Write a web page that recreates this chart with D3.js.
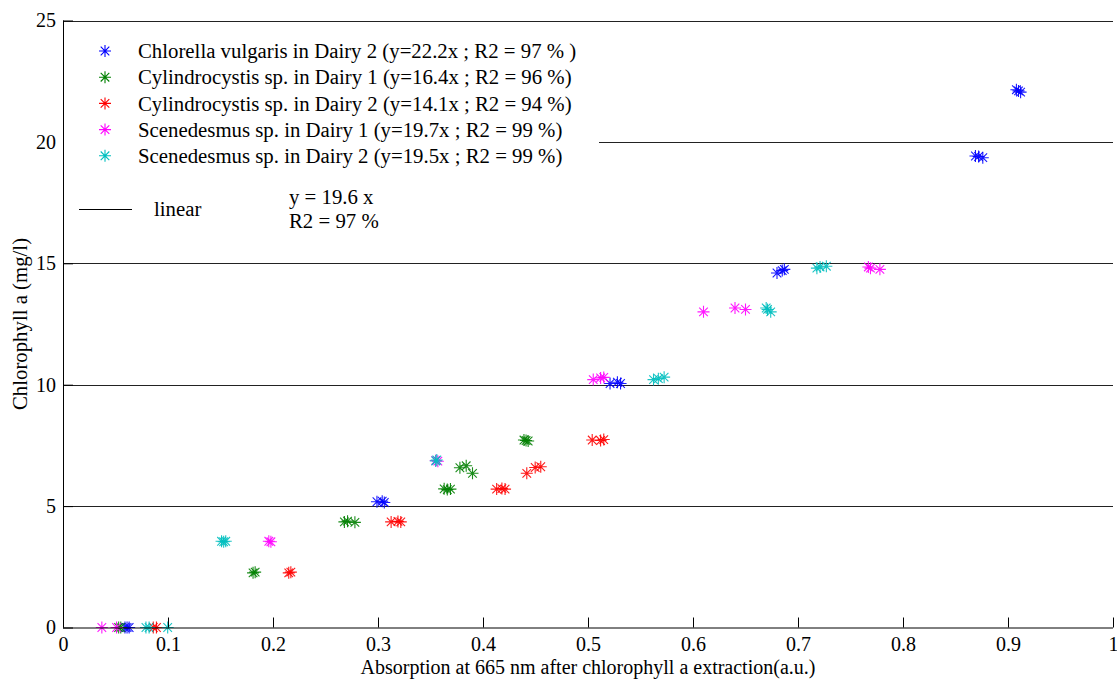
<!DOCTYPE html>
<html>
<head>
<meta charset="utf-8">
<script src="https://cdn.jsdelivr.net/npm/d3@7"></script>
<style>
  html, body { margin: 0; padding: 0; background: #fff; }
  svg text { font-family: "Liberation Serif", "Times New Roman", serif !important; fill: #000; }
</style>
</head>
<body>
<svg id="chart" width="1117" height="679"></svg>
<script>
// Series: absorption (a.u.) vs chlorophyll a (mg/l), replicates per level
const seriesNames = [
  "Chlorella vulgaris in Dairy 2 (y=22.2x ; R2 = 97 % )",
  "Cylindrocystis sp. in Dairy 1 (y=16.4x ; R2 = 96 %)",
  "Cylindrocystis sp. in Dairy 2 (y=14.1x ; R2 = 94 %)",
  "Scenedesmus sp. in Dairy 1 (y=19.7x ; R2 = 99 %)",
  "Scenedesmus sp. in Dairy 2 (y=19.5x ; R2 = 99 %)"
];
const seriesColors = ["#0000ff", "#008000", "#ff0000", "#ff00ff", "#00bfbf"];

const chlorellaD2 = [
  [0.059, 0], [0.063, 0], [0.061, 0],
  [0.299, 5.18], [0.304, 5.2], [0.306, 5.15],
  [0.521, 10.05], [0.528, 10.1], [0.531, 10.05],
  [0.680, 14.6], [0.685, 14.7], [0.687, 14.75],
  [0.869, 19.42], [0.872, 19.4], [0.876, 19.35],
  [0.908, 22.15], [0.910, 22.1], [0.912, 22.05]
];
const cylindroD1 = [
  [0.053, 0], [0.055, 0],
  [0.181, 2.25], [0.183, 2.28],
  [0.268, 4.35], [0.271, 4.38], [0.278, 4.33],
  [0.363, 5.71], [0.366, 5.68], [0.369, 5.7],
  [0.378, 6.58], [0.384, 6.66], [0.390, 6.35],
  [0.439, 7.72], [0.441, 7.7], [0.443, 7.68]
];
const cylindroD2 = [
  [0.086, 0], [0.089, 0],
  [0.215, 2.25], [0.217, 2.28],
  [0.3125, 4.35], [0.319, 4.37], [0.3217, 4.35],
  [0.413, 5.7], [0.418, 5.72], [0.421, 5.7],
  [0.4417, 6.35], [0.4497, 6.59], [0.455, 6.62],
  [0.504, 7.72], [0.512, 7.7], [0.515, 7.74]
];
const scenedD1 = [
  [0.037, 0], [0.051, 0],
  [0.196, 3.55], [0.198, 3.53],
  [0.355, 6.88], [0.357, 6.85],
  [0.505, 10.21], [0.512, 10.28], [0.515, 10.3],
  [0.610, 13.0],
  [0.640, 13.16], [0.650, 13.1],
  [0.767, 14.85], [0.769, 14.8], [0.778, 14.75]
];
const scenedD2 = [
  [0.079, 0], [0.082, 0], [0.0997, 0],
  [0.151, 3.55], [0.153, 3.53], [0.155, 3.55],
  [0.355, 6.86], [0.356, 6.9],
  [0.5624, 10.21], [0.567, 10.25], [0.5725, 10.31],
  [0.6697, 13.16], [0.671, 13.1], [0.674, 13.0],
  [0.718, 14.8], [0.721, 14.85], [0.727, 14.88]
];
const seriesValues = [chlorellaD2, cylindroD1, cylindroD2, scenedD1, scenedD2];

const xTicks = [0, 0.1, 0.2, 0.3, 0.4, 0.5, 0.6, 0.7, 0.8, 0.9, 1];
const yTicks = [0, 5, 10, 15, 20, 25];
const xTitle = "Absorption at 665 nm after chlorophyll a extraction(a.u.)";
const yTitle = "Chlorophyll a (mg/l)";
const fitLabel = "linear";
const fitText = ["y = 19.6 x", "R2 = 97 %"];

// Layout
const svg = d3.select("#chart");
const plotL = 63, plotR = 1113, plotT = 20.5, plotB = 627.5;
const x = d3.scaleLinear().domain([0, 1]).range([plotL, plotR]);
const y = d3.scaleLinear().domain([0, 25]).range([plotB, plotT]);
const axisFont = 20;
const legendFont = 20.8;

// Horizontal grid lines
svg.append("g")
  .selectAll("line")
  .data(yTicks.filter(d => d > 0))
  .join("line")
  .attr("x1", plotL).attr("x2", plotR)
  .attr("y1", d => Math.round(y(d)) + 0.5).attr("y2", d => Math.round(y(d)) + 0.5)
  .attr("stroke", "#222").attr("stroke-width", 1);

// Asterisk marker (plus + cross)
const r = 6, k = 4.3;
const star = `M${-r},0H${r}M0,${-r}V${r}M${-k},${-k}L${k},${k}M${-k},${k}L${k},${-k}`;

// Points
const pts = svg.append("g");
seriesValues.forEach((vals, i) => {
  pts.append("g")
    .selectAll("path")
    .data(vals)
    .join("path")
    .attr("d", star)
    .attr("transform", d => `translate(${x(d[0])},${y(d[1])})`)
    .attr("fill", "none")
    .attr("stroke", seriesColors[i])
    .attr("stroke-width", 1.1)
    .attr("opacity", 0.9);
});

// Axes with inward ticks
const xAxis = d3.axisBottom(x).tickValues(xTicks).tickSize(-10).tickPadding(9)
  .tickFormat(d => d3.format("~g")(d));
const gx = svg.append("g").attr("transform", `translate(0,${plotB})`).call(xAxis);
gx.attr("font-family", null).attr("font-size", axisFont);
gx.select(".domain").attr("d", `M${plotL},0.5H${plotR}`).attr("stroke", "#000");
gx.selectAll(".tick line").attr("stroke", "#000");
gx.selectAll(".tick text").style("font-size", axisFont + "px");

const yAxis = d3.axisLeft(y).tickValues(yTicks).tickSize(-10).tickPadding(7);
const gy = svg.append("g").attr("transform", `translate(${plotL},0)`).call(yAxis);
gy.attr("font-family", null).attr("font-size", axisFont);
gy.select(".domain").attr("d", `M0.5,${plotT}V${plotB}`).attr("stroke", "#000");
gy.selectAll(".tick line").attr("stroke", "#000");
gy.selectAll(".tick text").style("font-size", axisFont + "px");

// Axis titles
svg.append("text")
  .attr("x", (plotL + plotR) / 2).attr("y", 674)
  .attr("text-anchor", "middle").style("font-size", axisFont + "px")
  .text(xTitle);
svg.append("text")
  .attr("transform", `translate(27,${(plotT + plotB) / 2}) rotate(-90)`)
  .attr("text-anchor", "middle").style("font-size", legendFont + "px")
  .text(yTitle);

// Legend (white box over the grid)
const lg = svg.append("g");
lg.append("rect").attr("x", 64).attr("y", 27).attr("width", 535).attr("height", 212).attr("fill", "#fff");
const rowY = i => 51 + i * 26.2;
seriesNames.forEach((name, i) => {
  lg.append("path").attr("d", star)
    .attr("transform", `translate(105,${rowY(i)})`)
    .attr("fill", "none").attr("stroke", seriesColors[i]).attr("stroke-width", 1.1);
  lg.append("text").attr("x", 138).attr("y", rowY(i)).attr("dy", "0.35em")
    .style("font-size", legendFont + "px").text(name);
});
lg.append("line").attr("x1", 79).attr("x2", 132).attr("y1", 209.5).attr("y2", 209.5)
  .attr("stroke", "#000").attr("stroke-width", 1);
lg.append("text").attr("x", 154).attr("y", 209).attr("dy", "0.35em")
  .style("font-size", legendFont + "px").text(fitLabel);
fitText.forEach((t, i) => {
  lg.append("text").attr("x", 289).attr("y", 197 + i * 24).attr("dy", "0.35em")
    .style("font-size", legendFont + "px").text(t);
});
</script>
</body>
</html>
